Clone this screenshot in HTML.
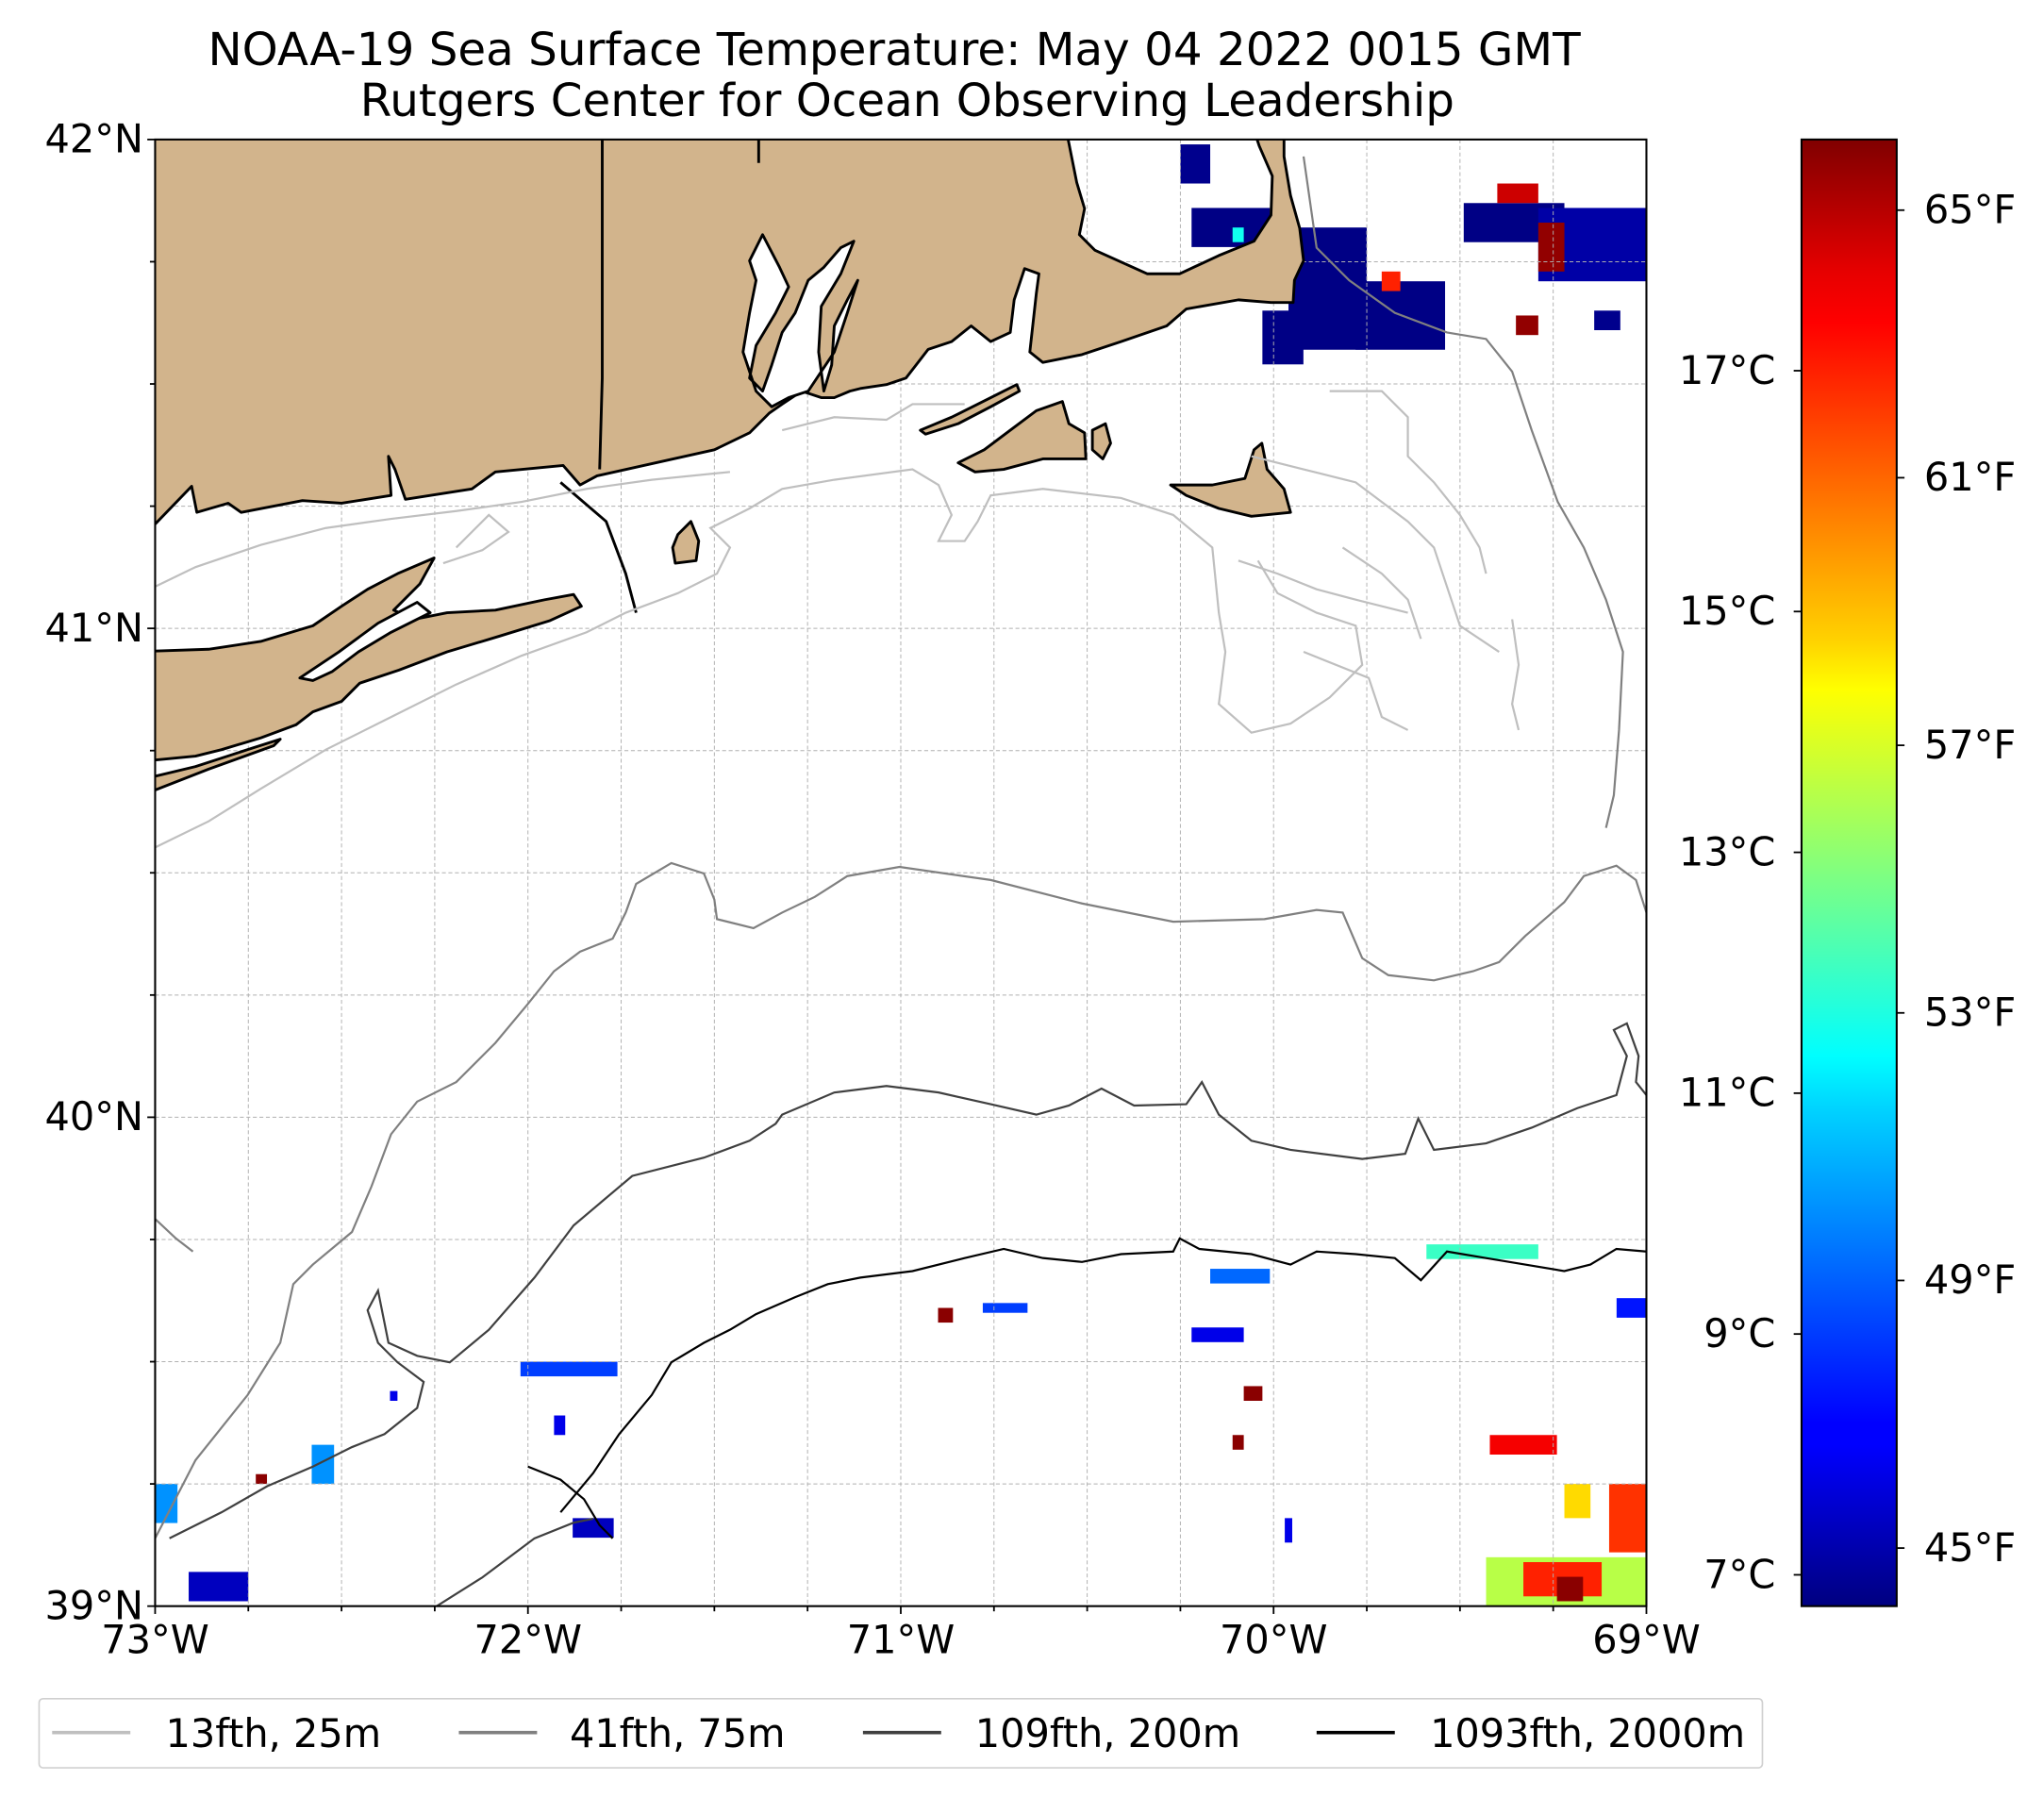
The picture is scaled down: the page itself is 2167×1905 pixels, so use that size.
<!DOCTYPE html>
<html><head><meta charset="utf-8">
<style>
html,body{margin:0;padding:0;background:#fff;}
svg{display:block;font-family:"DejaVu Sans","Liberation Sans",sans-serif;}
</style></head>
<body>
<svg id="fig" width="2167" height="1905" viewBox="0 0 1568 1378.4" xmlns="http://www.w3.org/2000/svg">
<defs>
<linearGradient id="jet" x1="0" y1="1" x2="0" y2="0">
<stop offset="0" stop-color="#000080"/><stop offset="0.11" stop-color="#0000ff"/><stop offset="0.125" stop-color="#0000ff"/>
<stop offset="0.34" stop-color="#00d4ff"/><stop offset="0.375" stop-color="#00ffff"/><stop offset="0.5" stop-color="#80ff80"/>
<stop offset="0.625" stop-color="#ffff00"/><stop offset="0.66" stop-color="#ffd000"/><stop offset="0.875" stop-color="#ff0000"/>
<stop offset="0.91" stop-color="#e60000"/><stop offset="1" stop-color="#800000"/>
</linearGradient>
<clipPath id="mapclip"><rect x="119" y="107" width="1144" height="1125"/></clipPath>
</defs>
<text x="686" y="50" font-size="35" text-anchor="middle">NOAA-19 Sea Surface Temperature: May 04 2022 0015 GMT</text>
<text x="696" y="89" font-size="35" text-anchor="middle">Rutgers Center for Ocean Observing Leadership</text>

<g id="map" clip-path="url(#mapclip)">
  <g id="sst"></g>
  <g id="grid"></g>
  <g fill="#d2b48c" stroke="#000" stroke-width="2.1" stroke-linejoin="round">
    <path d="M100,100 L818,100 L822,120 L826,140 L832,160 L828,180 L840,192 L880,210 L905,210 L935,196 L962,185 L975,165 L976,135 L966,112 L962,100 L985,100 L985,120 L990,150 L997,175 L1000,200 L993,215 L992,232 L975,232 L950,230 L910,237 L895,250 L860,262 L830,272 L800,278 L790,270 L795,225 L797,210 L786,206 L778,230 L775,255 L760,262 L745,250 L730,262 L712,268 L695,290 L680,295 L660,298 L652,300 L640,305 L630,305 L615,300 L600,310 L590,317 L575,332 L548,345 L458,365 L445,372 L432,357 L380,362 L362,375 L311,383 L303,360 L298,350 L300,380 L262,386 L232,384 L185,393 L175,386 L151,393 L147,373 L119,402 L100,410 Z"/>
    <path fill="#fff" d="M585,180 L598,205 L605,220 L595,240 L580,265 L575,290 L585,300 L592,280 L600,255 L610,240 L620,215 L632,205 L645,190 L655,185 L645,210 L630,235 L628,270 L632,300 L638,280 L640,250 L650,230 L658,215 L650,240 L640,270 L620,300 L605,305 L592,312 L580,300 L570,270 L575,240 L580,215 L575,200 Z"/>
    <path d="M100,500 L160,498 L200,492 L240,480 L262,465 L282,452 L305,440 L333,428 L322,448 L302,468 L318,475 L343,470 L380,468 L418,460 L440,456 L446,465 L422,476 L383,488 L343,500 L306,514 L276,524 L262,538 L240,546 L227,556 L200,566 L170,575 L150,580 L119,583 L100,585 Z"/>
    <path fill="#fff" d="M230,520 L260,500 L290,478 L320,462 L330,470 L300,485 L275,500 L255,515 L240,522 Z"/>
    <path d="M735,355 L755,345 L775,330 L795,315 L815,308 L820,325 L832,332 L833,352 L800,352 L770,360 L748,362 Z"/>
    <path d="M898,372 L930,372 L955,367 L962,345 L968,340 L972,360 L985,375 L990,393 L960,396 L935,390 L910,380 Z"/>
    <path d="M520,410 L530,400 L536,415 L534,430 L518,432 L516,420 Z"/>
    <path d="M838,330 L848,325 L852,340 L846,352 L838,345 Z"/>
    <path d="M706,330 L730,320 L760,305 L780,295 L782,300 L760,312 L735,325 L710,333 Z"/>
    <path d="M100,600 L150,588 L190,575 L215,567 L210,572 L160,590 L119,606 L100,612 Z"/>
  </g>
  <g fill="none" stroke="#000" stroke-width="2.1">
    <path d="M462,107 L462,290 L460,360"/><path d="M582,107 L582,125"/><path d="M430,370 L465,400 L480,440 L488,470"/>
  </g>
  <g fill="none" stroke="#bfbfbf" stroke-width="1.6">
    <path d="M119,650 L160,630 L200,605 L250,575 L300,550 L350,525 L400,503 L450,485 L480,470 L520,455 L550,440 L560,420 L545,405 L575,390 L600,375 L640,368 L700,360 L720,372 L730,395 L720,415 L740,415 L750,400 L760,380 L800,375 L860,382 L900,395 L930,420 L935,470 L940,500 L935,540 L960,562 L990,555 L1020,535 L1045,510 L1040,480 L1010,470 L980,455 L965,430"/>
    <path d="M119,450 L150,435 L200,418 L250,405 L300,398 L350,392 L400,385 L450,375 L500,368 L560,362"/>
    <path d="M340,432 L370,422 L390,408 L375,395 L350,420"/>
    <path d="M600,330 L640,320 L680,322 L700,310 L740,310"/>
    <path d="M960,350 L1000,360 L1040,370 L1060,385 L1080,400 L1100,420 L1110,450 L1120,480 L1150,500"/>
    <path d="M1020,300 L1060,300 L1080,320 L1080,350 L1100,370 L1120,395 L1135,420 L1140,440"/>
    <path d="M950,430 L980,440 L1010,452 L1040,460 L1080,470"/>
    <path d="M1000,500 L1050,520 L1060,550 L1080,560"/>
    <path d="M1030,420 L1060,440 L1080,460 L1090,490"/>
    <path d="M1160,475 L1165,510 L1160,540 L1165,560"/>
  </g>
  <g fill="none" stroke="#808080" stroke-width="1.6">
    <path d="M119,1180 L150,1120 L190,1070 L215,1030 L225,985 L240,970 L270,945 L285,910 L300,870 L320,845 L350,830 L380,800 L405,770 L425,745 L445,730 L470,720 L480,700 L488,678 L515,662 L540,670 L548,690 L550,705 L578,712 L600,700 L625,688 L650,672 L690,665 L760,675 L830,693 L900,707 L970,705 L1010,698 L1030,700 L1045,735 L1065,748 L1100,752 L1130,745 L1150,738 L1170,718 L1200,692 L1215,672 L1240,664 L1255,675 L1263,700"/>
    <path d="M119,935 L135,950 L148,960"/>
    <path d="M1000,120 L1010,190 L1035,215 L1070,240 L1110,255 L1140,260 L1160,285 L1175,330 L1195,385 L1215,420 L1232,460 L1245,500 L1242,560 L1238,610 L1232,635"/>
  </g>
  <g fill="none" stroke="#404040" stroke-width="1.6">
    <path d="M130,1180 L170,1160 L205,1140 L240,1125 L270,1110 L295,1100 L320,1080 L325,1060 L305,1045 L290,1030 L282,1005 L290,990 L298,1030 L320,1040 L345,1045 L375,1020 L410,980 L440,940 L485,902 L540,888 L575,875 L595,862 L600,855 L640,838 L680,833 L720,838 L760,847 L795,855 L820,848 L845,835 L870,848 L910,847 L922,830 L935,855 L960,875 L990,882 L1045,889 L1078,885 L1088,858 L1100,882 L1140,877 L1175,865 L1210,850 L1240,840 L1248,810 L1238,790 L1248,785 L1257,810 L1255,830 L1263,840"/>
    <path d="M335,1232 L370,1210 L410,1180 L440,1168 L455,1165"/>
  </g>
  <g fill="none" stroke="#000" stroke-width="1.6">
    <path d="M405,1125 L430,1135 L448,1150 L460,1170 L470,1180"/>
    <path d="M430,1160 L455,1130 L475,1100 L500,1070 L515,1045 L540,1030 L560,1020 L580,1008 L610,995 L635,985 L660,980 L700,975 L740,965 L770,958 L800,965 L830,968 L860,962 L900,960 L905,950 L920,958 L960,962 L990,970 L1010,960 L1040,962 L1070,965 L1090,982 L1110,960 L1140,965 L1170,970 L1200,975 L1220,970 L1240,958 L1263,960"/>
  </g>
</g>
<rect x="119" y="107" width="1144" height="1125" fill="none" stroke="#000" stroke-width="1.5"/>
<g id="axes" font-size="30"></g>

<g id="cbar" font-size="30">
  <rect x="1382" y="107" width="73" height="1125" fill="url(#jet)" stroke="#000" stroke-width="1.5"/>
</g>

<g font-size="30">
  <rect x="30" y="1303" width="1322" height="53" rx="3" fill="#fff" stroke="#d0d0d0" stroke-width="1.2"/>
  <g><line x1="40" y1="1329" x2="100" y2="1329" stroke="#bfbfbf" stroke-width="2.6"/><text x="127" y="1340">13fth, 25m</text></g>
  <g><line x1="352" y1="1329" x2="412" y2="1329" stroke="#808080" stroke-width="2.6"/><text x="437" y="1340">41fth, 75m</text></g>
  <g><line x1="662" y1="1329" x2="722" y2="1329" stroke="#404040" stroke-width="2.6"/><text x="748" y="1340">109fth, 200m</text></g>
  <g><line x1="1010" y1="1329" x2="1070" y2="1329" stroke="#000" stroke-width="2.6"/><text x="1097" y="1340">1093fth, 2000m</text></g>
</g>
</svg>
<script>
const lonTicks = [-73, -72, -71, -70, -69];
const lonLabels = ["73°W", "72°W", "71°W", "70°W", "69°W"];
const latTicks = [39, 40, 41, 42];
const latLabels = ["39°N", "40°N", "41°N", "42°N"];
const cTicks = [7, 9, 11, 13, 15, 17];
const fTicks = [45, 49, 53, 57, 61, 65];
// SST patches: west lon, east lon, north lat, south lat
const patchLonW = [-69.96,-69.78,-70.03,-69.49,-69.29,-69.29,-69.40,-70.22,-70.25,-69.14,-69.35,-69.71,-70.11,-69.43,-69.33,-69.24,-69.10,-69.22,-72.91,-69.42,-70.22,-70.17,-69.08,-72.02,-71.88,-70.11,-70.78,-69.59,-70.90,-70.08,-72.58,-69.97,-73.00,-72.73,-72.37,-71.93];
const patchLonE = [-69.75,-69.54,-69.92,-69.22,-69.00,-69.22,-69.29,-70.01,-70.17,-69.07,-69.29,-69.66,-70.08,-69.00,-69.12,-69.17,-69.00,-69.15,-72.75,-69.24,-70.08,-70.01,-69.00,-71.76,-71.77,-70.08,-70.66,-69.29,-70.86,-70.03,-72.52,-69.95,-72.94,-72.70,-72.35,-71.90];
const patchLatN = [41.82,41.71,41.65,41.87,41.86,41.83,41.91,41.86,41.99,41.65,41.64,41.73,41.82,39.10,39.09,39.06,39.25,39.25,39.07,39.35,39.57,39.69,39.63,39.50,39.18,39.35,39.62,39.74,39.61,39.45,39.33,39.18,39.25,39.27,39.44,39.39];
const patchLatS = [41.57,41.57,41.54,41.79,41.71,41.73,41.87,41.78,41.91,41.61,41.60,41.69,41.79,39.00,39.02,39.01,39.11,39.18,39.01,39.31,39.54,39.66,39.59,39.47,39.14,39.32,39.60,39.71,39.58,39.42,39.25,39.13,39.17,39.25,39.42,39.35];
const patchTemp = [6.8,6.8,6.8,6.8,7.2,18.7,18.0,6.8,6.9,6.9,18.7,17.0,11.5,13.5,17.0,18.8,16.8,14.8,7.5,17.5,8.0,9.5,8.5,9.0,7.5,18.8,9.0,12.0,18.8,18.8,10.0,8.0,10.0,18.8,8.0,8.0];

const NS = "http://www.w3.org/2000/svg";
const X0 = 119, X1 = 1263, Y0 = 107, Y1 = 1232;
const LON0 = -73, LON1 = -69, LAT0 = 39, LAT1 = 42;
const TMIN = 6.74, TMAX = 18.92;
function xS(lon){ return X0 + (lon - LON0) / (LON1 - LON0) * (X1 - X0); }
function yS(lat){ return Y1 - (lat - LAT0) / (LAT1 - LAT0) * (Y1 - Y0); }
function yT(t){ return Y1 - (t - TMIN) / (TMAX - TMIN) * (Y1 - Y0); }
function clamp(v){ return Math.max(0, Math.min(1, v)); }
function jet(t){
  const u = clamp((t - TMIN) / (TMAX - TMIN));
  const r = clamp(1.5 - Math.abs(4*u - 3)), g = clamp(1.5 - Math.abs(4*u - 2)), b = clamp(1.5 - Math.abs(4*u - 1));
  return "rgb(" + Math.round(r*255) + "," + Math.round(g*255) + "," + Math.round(b*255) + ")";
}
function mk(tag, attrs, parent){
  const e = document.createElementNS(NS, tag);
  for (const k in attrs) e.setAttribute(k, attrs[k]);
  parent.appendChild(e); return e;
}
const sst = document.getElementById("sst");
for (let i = 0; i < patchTemp.length; i++){
  const r = mk("rect", {x: xS(patchLonW[i]), y: yS(patchLatN[i]), width: xS(patchLonE[i]) - xS(patchLonW[i]), height: yS(patchLatS[i]) - yS(patchLatN[i]), fill: jet(patchTemp[i])}, sst);
  
  
}
const grid = document.getElementById("grid");
const axes = document.getElementById("axes");
for (let lon = LON0; lon <= LON1 + 1e-9; lon += 0.25){
  const x = xS(lon);
  const major = Math.abs(lon - Math.round(lon)) < 1e-9;
  const gl = mk("line", {x1: x, x2: x, y1: Y0, y2: Y1, stroke: "#b0b0b0", "stroke-width": 0.7, "stroke-dasharray": "3,2"}, grid);
  
  
  const tk = mk("line", {x1: x, x2: x, y1: Y1, y2: Y1 + (major ? 6 : 4), stroke: "#000", "stroke-width": 1.3}, axes);
  
  
}
for (let lat = LAT0; lat <= LAT1 + 1e-9; lat += 0.25){
  const y = yS(lat);
  const major = Math.abs(lat - Math.round(lat)) < 1e-9;
  const gl = mk("line", {x1: X0, x2: X1, y1: y, y2: y, stroke: "#b0b0b0", "stroke-width": 0.7, "stroke-dasharray": "3,2"}, grid);
  
  
  const tk = mk("line", {x1: X0 - (major ? 6 : 4), x2: X0, y1: y, y2: y, stroke: "#000", "stroke-width": 1.3}, axes);
  
  
}
lonTicks.forEach((lon, i) => {
  const t = mk("text", {x: xS(lon), y: Y1 + 36, "text-anchor": "middle"}, axes);
  t.textContent = lonLabels[i];
  
  
});
latTicks.forEach((lat, i) => {
  const t = mk("text", {x: X0 - 9, y: yS(lat) + 10, "text-anchor": "end"}, axes);
  t.textContent = latLabels[i];
  
  
});
const cbar = document.getElementById("cbar");
cTicks.forEach(c => {
  const y = yT(c);
  const l = mk("line", {x1: 1376, x2: 1382, y1: y, y2: y, stroke: "#000", "stroke-width": 1.3}, cbar);
  
  
  const t = mk("text", {x: 1362, y: y + 10, "text-anchor": "end"}, cbar);
  t.textContent = c + "°C";
  
  
});
fTicks.forEach(f => {
  const y = yT((f - 32) * 5 / 9);
  const l = mk("line", {x1: 1455, x2: 1461, y1: y, y2: y, stroke: "#000", "stroke-width": 1.3}, cbar);
  
  
  const t = mk("text", {x: 1476, y: y + 10, "text-anchor": "start"}, cbar);
  t.textContent = f + "°F";
  
  
});
</script>
</body></html>
